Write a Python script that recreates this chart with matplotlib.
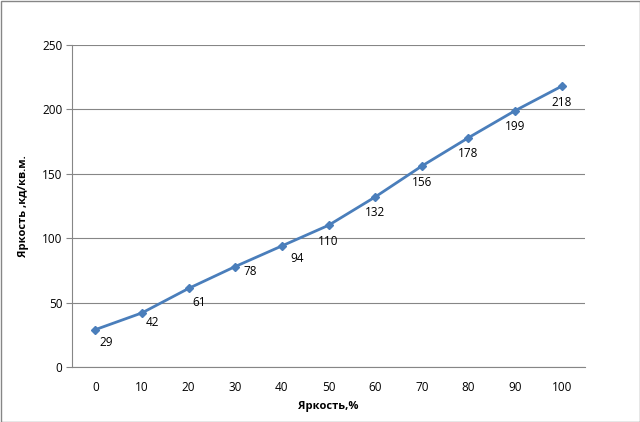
import matplotlib
matplotlib.use("Agg")
import matplotlib.pyplot as plt
from matplotlib.patches import Rectangle

categories = [0, 10, 20, 30, 40, 50, 60, 70, 80, 90, 100]
values = [29, 42, 61, 78, 94, 110, 132, 156, 178, 199, 218]
yticks = [0, 50, 100, 150, 200, 250]

# label placement offsets (pixels) as in the reference
label_dx = [11, 10, 11, 15, 15, 0, 0, 0, 0, 0, 0]
label_dy = [-13, -10, -14, -5, -13, -16, -16, -16, -16, -16, -16]

plt.rcParams['font.family'] = ['Open Sans', 'DejaVu Sans']

fig = plt.figure(figsize=(6.4, 4.22), dpi=100)
ax = fig.add_axes([72/640, 1-367/422, (585-72)/640, (367-45)/422])

x = list(range(len(categories)))
color = '#4A7EBB'
ax.plot(x, values, color=color, lw=2, marker='D', ms=4, zorder=3)
for xi, v, dx, dy in zip(x, values, label_dx, label_dy):
    ax.annotate(str(v), (xi, v), xytext=(dx, dy), textcoords='offset pixels',
                ha='center', va='center', fontsize=8.5, color='black')

ax.set_xlim(-0.5, len(categories) - 0.5)
ax.set_ylim(0, 250)
ax.set_yticks(yticks)
ax.set_xticks(x)
ax.set_xticklabels([str(c) for c in categories])
ax.yaxis.grid(True, color='#868686', lw=0.8)
ax.set_axisbelow(True)
for s in ['top', 'right']:
    ax.spines[s].set_visible(False)
for s in ['left', 'bottom']:
    ax.spines[s].set_color('#868686')
ax.tick_params(axis='y', length=4, color='#868686', labelsize=8.5, pad=3)
ax.tick_params(axis='x', length=0, labelsize=8.5, pad=10)

ax.set_xlabel('Яркость,%', fontsize=8, fontweight='bold', labelpad=5)
ax.set_ylabel('Яркость ,кд/кв.м.', fontsize=8, fontweight='bold', labelpad=9)

fig.patches.append(Rectangle((0.5/640, 0.5/422), 1-1/640, 1-1/422, transform=fig.transFigure,
                             fill=False, edgecolor='#868686', lw=1))

fig.savefig('out.png', dpi=100)
